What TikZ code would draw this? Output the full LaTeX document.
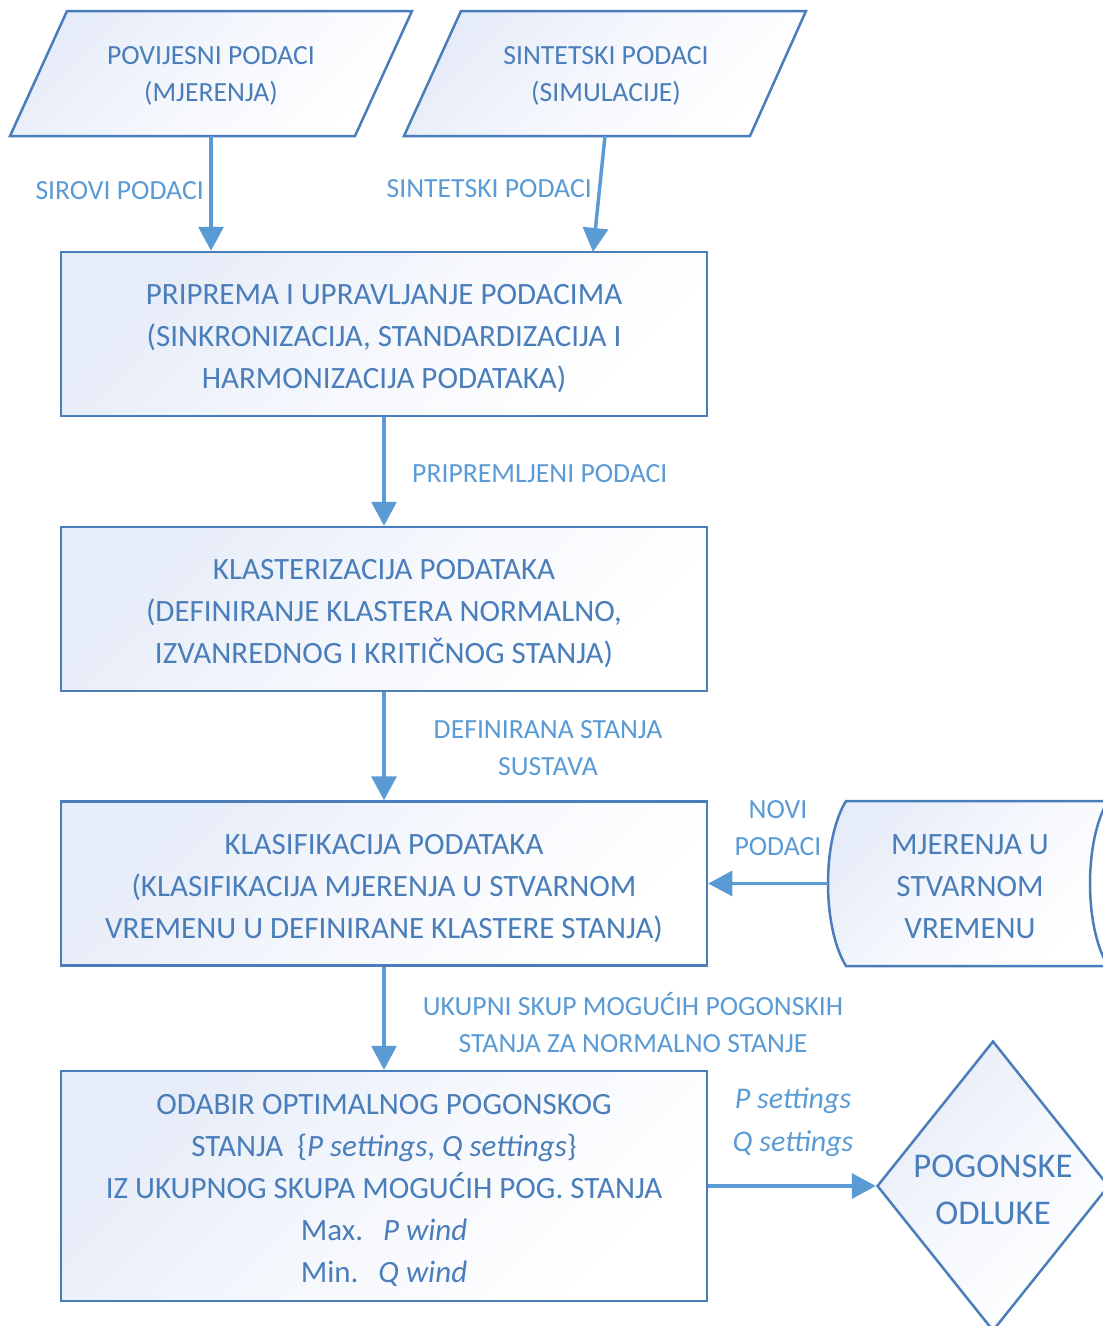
\documentclass[tikz,border=0pt]{standalone}
\usepackage{fontspec}
\setmainfont{Carlito}
\usetikzlibrary{arrows.meta,shapes.geometric}
\definecolor{txtblue}{RGB}{74,126,187}
\definecolor{edgeblue}{RGB}{74,126,187}
\definecolor{arrblue}{RGB}{91,155,213}
\definecolor{shadeblue}{RGB}{230,236,248}
\newcommand{\topstrut}{\rule{0pt}{30pt}}
\begin{document}
\begin{tikzpicture}[x=1pt,y=-1pt,
  shadefill/.style={draw=edgeblue, line width=2.5pt, top color=shadeblue, bottom color=white, middle color=white!60!shadeblue, shading angle=45},
  procbox/.style={shadefill, rectangle, minimum width=646pt, minimum height=164pt, align=center, text=txtblue, font=\fontsize{31}{42}\selectfont, inner sep=0pt},
  intext/.style={align=center, text=txtblue, inner sep=0pt},
  flow/.style={draw=arrblue, line width=3.5pt, -{Triangle[length=24pt,width=25pt]}},
  lbl/.style={text=arrblue, font=\fontsize{27.7}{37}\selectfont, align=center, inner sep=0pt}]
\useasboundingbox[fill=white] (0,0) rectangle (1103,1326);
\begin{scope}
\clip (0,0) rectangle (1103,1326);
% parallelograms
\draw[shadefill] (67,11) -- (412,11) -- (355,136) -- (10,136) -- cycle;
\draw[shadefill] (461,11) -- (806,11) -- (750,136) -- (404,136) -- cycle;
\coordinate (p1b) at (211,136);
\coordinate (p2b) at (605,136);
\node[intext, font=\fontsize{27.7}{37}\selectfont] (p1) at (211,76) {POVIJESNI PODACI\\(MJERENJA)};
\node[intext, font=\fontsize{27.7}{37}\selectfont] (p2) at (606,76) {SINTETSKI PODACI\\(SIMULACIJE)};
% process boxes
\node[procbox] (b1) at (384,334) {\topstrut PRIPREMA I UPRAVLJANJE PODACIMA\\(SINKRONIZACIJA, STANDARDIZACIJA I\\HARMONIZACIJA PODATAKA)};
\node[procbox] (b2) at (384,609) {\topstrut KLASTERIZACIJA PODATAKA\\(DEFINIRANJE KLASTERA NORMALNO,\\IZVANREDNOG I KRITIČNOG STANJA)};
\node[procbox] (b3) at (384,883.5) {\topstrut KLASIFIKACIJA PODATAKA\\(KLASIFIKACIJA MJERENJA U STVARNOM\\VREMENU U DEFINIRANE KLASTERE STANJA)};
\node[procbox, minimum height=230pt] (b4) at (384,1186) {\topstrut ODABIR OPTIMALNOG POGONSKOG\\STANJA~~\{\textit{P settings}, \textit{Q settings}\}\\IZ UKUPNOG SKUPA MOGUĆIH POG. STANJA\\Max.\hspace{20pt}\textit{P wind}\\Min.\hspace{20pt}\textit{Q wind}};
% stored data
\draw[shadefill] (846,801) -- (1108,801) .. controls (1084,840) and (1084,927) .. (1108,966) -- (846,966) .. controls (822,927) and (822,840) .. (846,801) -- cycle;
\coordinate (sdl) at (828,883.5);
\node[intext, font=\fontsize{31}{42}\selectfont] (sd) at (970,887) {MJERENJA U\\STVARNOM\\VREMENU};
% decision
\node[shadefill, diamond, aspect=0.8, minimum width=232pt, minimum height=290pt, inner sep=0pt, intext, font=\fontsize{34.7}{47}\selectfont] (dec) at (993,1186) {\rule{0pt}{30pt}POGONSKE\\ODLUKE};
\end{scope}
% connectors
\draw[flow] (p1b) -- (b1.north -| p1b);
\draw[flow] (p2b) -- (593,252);
\draw[flow] (b1) -- (b2);
\draw[flow] (b2) -- (b3);
\draw[flow] (b3) -- (b4);
\draw[flow] (sdl) -- (b3.east |- sdl);
\draw[flow] (b4.east) -- (dec.west);
% labels
\node[lbl, anchor=east] (l1) at (204,191) {SIROVI PODACI};
\node[lbl, anchor=east] (l2) at (592,189) {SINTETSKI PODACI};
\node[lbl, anchor=west] (l3) at (412,474) {PRIPREMLJENI PODACI};
\node[lbl] (l4) at (548,748.5) {DEFINIRANA STANJA\\SUSTAVA};
\node[lbl] (l5) at (778,828.5) {NOVI\\PODACI};
\node[lbl] (l6) at (633,1023) {UKUPNI SKUP MOGUĆIH POGONSKIH\\STANJA ZA NORMALNO STANJE};
\node[lbl, font=\itshape\fontsize{30}{43}\selectfont] (l7) at (793,1122) {P settings\\Q settings};
\end{tikzpicture}
\end{document}
